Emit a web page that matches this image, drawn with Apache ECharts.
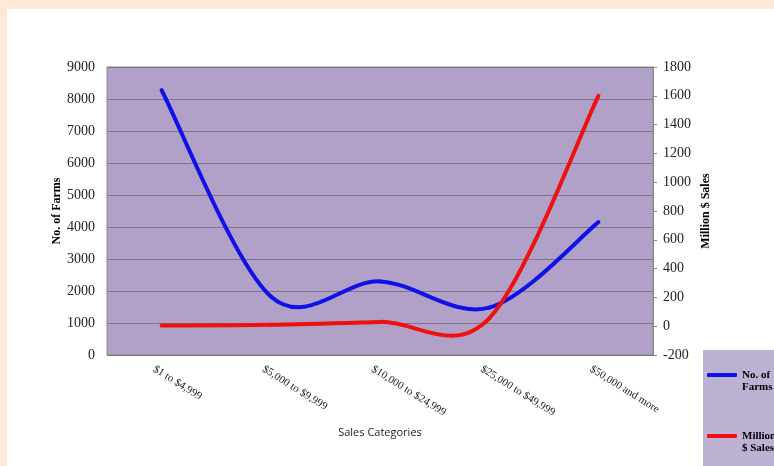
<!DOCTYPE html>
<html>
<head>
<meta charset="utf-8">
<script src="https://cdn.jsdelivr.net/npm/echarts@6/dist/echarts.min.js"></script>
<style>
html,body{margin:0;padding:0;background:#ffffff;}
#chart{width:774px;height:466px;}
</style>
</head>
<body>
<div id="chart"></div>
<script>
const categories = ['$1 to $4,999', '$5,000 to $9,999', '$10,000 to $24,999', '$25,000 to $49,999', '$50,000 and more'];
const farmsName = 'No. of Farms';
const salesName = 'Million $ Sales';
const farms = [8275, 1830, 2300, 1480, 4150];
const sales = [5, 10, 30, 55, 1600];
const leftTicks = { min: 0, max: 9000, interval: 1000 };
const rightTicks = { min: -200, max: 1800, interval: 200 };
const legendLabels = { 'No. of Farms': '\u00a0\nNo. of\nFarms', 'Million $ Sales': '\u00a0\nMillion\n$ Sales' };

const chart = echarts.init(document.getElementById('chart'), null, { renderer: 'canvas' });
const serif = '"Liberation Serif", "DejaVu Serif", serif';

// Smoothed (Catmull-Rom style, like a spreadsheet's smoothed line) segment renderer
function makeRenderer(values, color) {
  return function (params, api) {
    const i = params.dataIndex;
    const n = values.length;
    if (i >= n - 1) return null;
    const pt = function (k) {
      const kk = Math.max(0, Math.min(n - 1, k));
      return api.coord([kk, values[kk]]);
    };
    const p0 = pt(i - 1), p1 = pt(i), p2 = pt(i + 1), p3 = pt(i + 2);
    const t = 1 / 6;
    return {
      type: 'bezierCurve',
      shape: {
        x1: p1[0], y1: p1[1],
        cpx1: p1[0] + (p2[0] - p0[0]) * t, cpy1: p1[1] + (p2[1] - p0[1]) * t,
        cpx2: p2[0] - (p3[0] - p1[0]) * t, cpy2: p2[1] - (p3[1] - p1[1]) * t,
        x2: p2[0], y2: p2[1]
      },
      style: { stroke: color, lineWidth: 4, fill: null, lineCap: 'round' }
    };
  };
}

chart.setOption({
  animation: false,
  backgroundColor: '#ffffff',
  graphic: [
    { type: 'rect', left: 0, top: 0, shape: { width: 774, height: 9 }, style: { fill: '#FDE9D8' }, z: -10 },
    { type: 'rect', left: 0, top: 0, shape: { width: 7, height: 466 }, style: { fill: '#FDE9D8' }, z: -10 },
    { type: 'rect', left: 703, top: 350, shape: { width: 80, height: 120 }, style: { fill: '#BDB2D3' }, z: -5 }
  ],
  grid: {
    left: 107, right: 121, top: 67, bottom: 111,
    show: true, backgroundColor: '#B1A1C8', borderColor: '#8a8a8a', borderWidth: 1
  },
  legend: {
    orient: 'vertical',
    left: 703, top: 350,
    padding: [7, 4, 4, 4],
    icon: 'roundRect',
    itemWidth: 30, itemHeight: 4,
    itemGap: 25,
    formatter: function (n) { return legendLabels[n]; },
    textStyle: { fontFamily: serif, fontWeight: 'bold', fontSize: 11, lineHeight: 12, color: '#000' },
    data: [farmsName, salesName]
  },
  xAxis: {
    type: 'category',
    data: categories,
    boundaryGap: true,
    name: 'Sales Categories',
    nameLocation: 'middle',
    nameGap: 72,
    nameMoveOverlap: false,
    nameTextStyle: { fontFamily: '"Open Sans", "Noto Sans", sans-serif', fontSize: 11, color: '#222' },
    axisLine: { show: false },
    axisTick: { show: false },
    axisLabel: { rotate: -32, fontFamily: serif, fontSize: 11, color: '#222', margin: 18, padding: [0, 0, 0, -9], interval: 0 }
  },
  yAxis: [
    {
      type: 'value', position: 'left',
      min: leftTicks.min, max: leftTicks.max, interval: leftTicks.interval,
      name: 'No. of Farms', nameLocation: 'middle', nameGap: 44, nameRotate: 90, nameMoveOverlap: false,
      nameTextStyle: { fontFamily: serif, fontWeight: 'bold', fontSize: 12, color: '#000' },
      axisLine: { show: false }, axisTick: { show: false },
      axisLabel: { fontFamily: serif, fontSize: 14, color: '#222', margin: 12, formatter: function (v) { return String(v); } },
      splitLine: { show: true, lineStyle: { color: '#7d7385', width: 1 } }
    },
    {
      type: 'value', position: 'right',
      min: rightTicks.min, max: rightTicks.max, interval: rightTicks.interval,
      name: 'Million $ Sales', nameLocation: 'middle', nameGap: 47, nameRotate: 90, nameMoveOverlap: false,
      nameTextStyle: { fontFamily: serif, fontWeight: 'bold', fontSize: 12, color: '#000' },
      axisLine: { show: true, lineStyle: { color: '#8a8a8a' } },
      axisTick: { show: true, length: 4, lineStyle: { color: '#8a8a8a' } },
      axisLabel: { fontFamily: serif, fontSize: 14, color: '#222', margin: 10, formatter: function (v) { return String(v); } },
      splitLine: { show: false }
    }
  ],
  series: [
    {
      name: farmsName, type: 'custom', yAxisIndex: 0,
      data: farms.map(function (v, i) { return [i, v]; }),
      encode: { x: 0, y: 1 },
      renderItem: makeRenderer(farms, '#1010E8'),
      itemStyle: { color: '#1010E8' }
    },
    {
      name: salesName, type: 'custom', yAxisIndex: 1,
      data: sales.map(function (v, i) { return [i, v]; }),
      encode: { x: 0, y: 1 },
      renderItem: makeRenderer(sales, '#F01010'),
      itemStyle: { color: '#F01010' }
    }
  ]
});
</script>
</body>
</html>
